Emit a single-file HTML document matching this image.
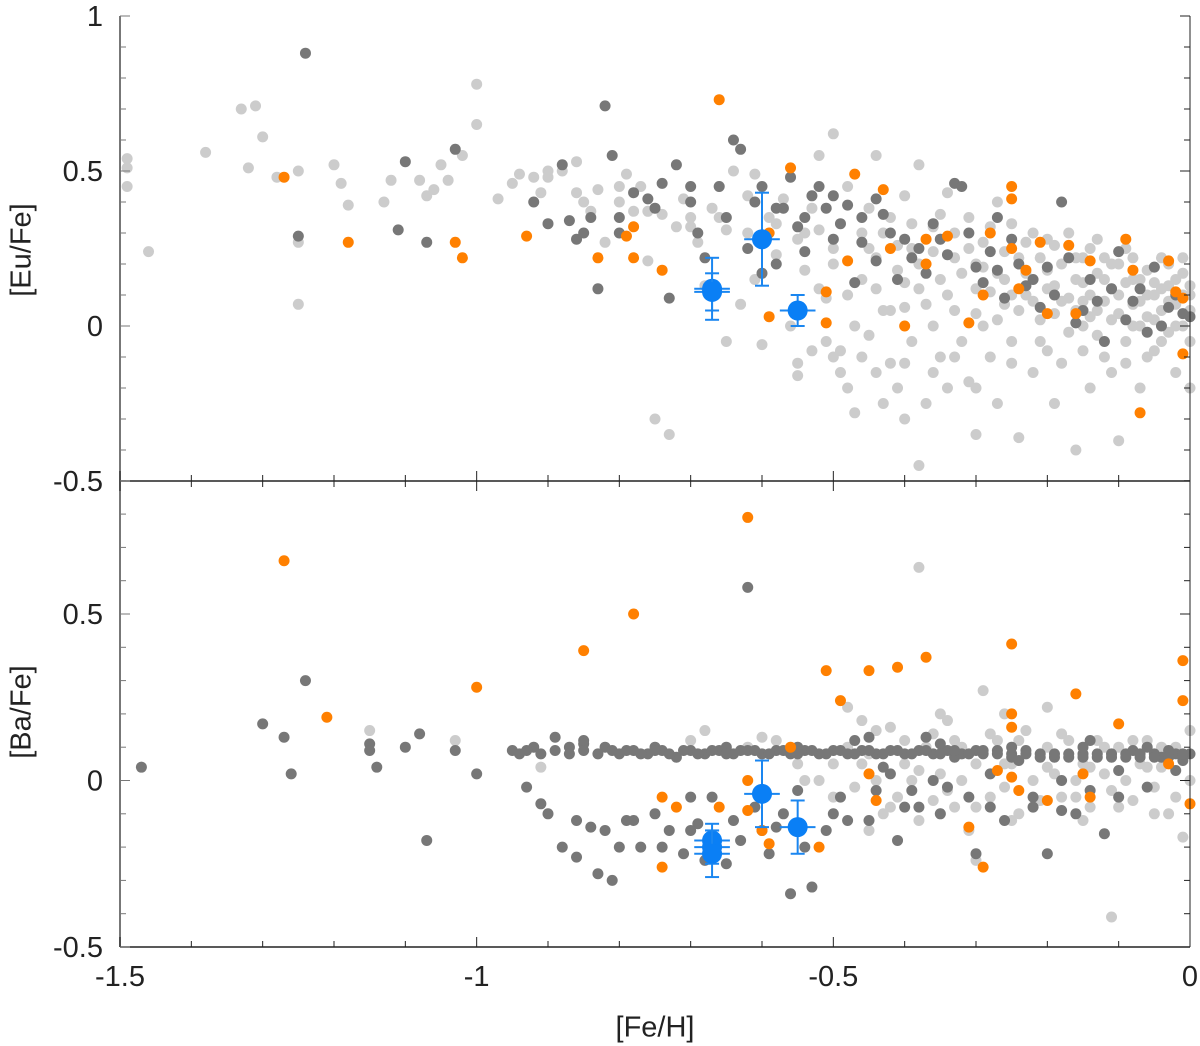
<!DOCTYPE html>
<html><head><meta charset="utf-8"><style>
html,body{margin:0;padding:0;background:#fff;}
svg{display:block;font-family:"Liberation Sans",Arial,sans-serif;}
</style></head><body>
<svg id="chart" width="1200" height="1046" viewBox="0 0 1200 1046" xmlns="http://www.w3.org/2000/svg">
<g id="marks"></g>
<g id="axes"></g>
</svg>
<script>
const xTicks=[-1.5,-1,-0.5,0];
const xTickLabels=["-1.5","-1","-0.5","0"];
const topYTicks=[1,0.5,0,-0.5];
const topYLabels=["1","0.5","0","-0.5"];
const botYTicks=[0.5,0,-0.5];
const botYLabels=["0.5","0","-0.5"];

const euLight=[-1.49,0.54,-1.49,0.51,-1.49,0.45,-1.46,0.24,-1.38,0.56,-1.33,0.70,-1.31,0.71,-1.30,0.61,-1.32,0.51,-1.28,0.48,-1.25,0.50,-1.25,0.27,-1.25,0.07,-1.20,0.52,-1.19,0.46,-1.18,0.39,-1.13,0.4,-1.12,0.47,-1.08,0.47,-1.07,0.42,-1.06,0.44,-1.05,0.52,-1.04,0.47,-1.02,0.55,-1.00,0.65,-1.00,0.78,-0.97,0.41,-0.95,0.46,-0.94,0.49,-0.92,0.48,-0.91,0.43,-0.90,0.48,-0.88,0.50,-0.86,0.53,-0.85,0.40,-0.84,0.37,-0.83,0.44,-0.82,0.27,-0.80,0.45,-0.79,0.49,-0.78,0.37,-0.77,0.45,-0.76,0.21,-0.76,0.37,-0.75,-0.30,-0.73,-0.35,-0.72,0.32,-0.71,0.41,-0.70,0.35,-0.69,0.27,-0.68,0.13,-0.67,0.38,-0.66,0.45,-0.65,0.31,-0.65,-0.05,-0.64,0.50,-0.63,0.07,-0.62,0.42,-0.61,0.49,-0.61,0.15,-0.60,-0.06,-0.59,0.35,-0.58,0.23,-0.57,0.41,-0.56,0.0,-0.55,0.28,-0.55,-0.12,-0.55,-0.16,-0.54,0.18,-0.53,0.38,-0.53,-0.08,-0.52,0.55,-0.52,0.31,-0.51,0.09,-0.51,-0.05,-0.50,0.62,-0.50,0.2,-0.49,-0.08,-0.49,-0.15,-0.48,0.45,-0.48,0.1,-0.47,0.0,-0.47,-0.28,-0.46,0.3,-0.46,0.15,-0.45,-0.03,-0.44,0.55,-0.44,0.22,-0.43,0.05,-0.43,-0.25,-0.42,0.35,-0.42,-0.12,-0.41,0.18,-0.41,-0.2,-0.40,0.42,-0.40,0.06,-0.40,-0.3,-0.39,0.25,-0.39,-0.05,-0.38,0.52,-0.38,0.12,-0.38,-0.45,-0.37,-0.25,-0.36,0.32,-0.36,0.0,-0.35,0.15,-0.35,-0.1,-0.34,0.43,-0.34,-0.2,-0.33,0.22,-0.33,0.05,-0.32,-0.05,-0.31,0.35,-0.31,-0.18,-0.30,0.12,-0.30,-0.35,-0.29,0.27,-0.29,0.0,-0.28,-0.1,-0.27,0.4,-0.27,0.17,-0.27,-0.25,-0.26,0.07,-0.25,0.33,-0.25,-0.05,-0.24,0.22,-0.24,-0.36,-0.23,0.1,-0.22,0.3,-0.22,-0.15,-0.21,0.02,-0.2,0.18,-0.2,-0.08,-0.19,0.26,-0.19,-0.25,-0.18,0.08,-0.17,0.3,-0.17,-0.02,-0.16,0.15,-0.16,-0.4,-0.15,0.22,-0.15,0.0,-0.14,0.1,-0.14,-0.2,-0.13,0.28,-0.13,0.05,-0.12,0.15,-0.12,-0.1,-0.11,0.2,-0.11,0.02,-0.1,0.1,-0.1,-0.37,-0.09,0.25,-0.09,-0.05,-0.08,0.15,-0.08,0.0,-0.07,0.08,-0.07,-0.2,-0.06,0.18,-0.06,0.03,-0.05,0.1,-0.05,-0.08,-0.04,0.22,-0.04,0.05,-0.03,0.13,-0.03,-0.02,-0.02,0.07,-0.02,-0.15,-0.01,0.17,-0.01,0.0,0,0.1,0,-0.2,0,0.05,-0.2,0.12,-0.3,0.2,-0.35,0.28,-0.45,0.38,-0.25,0.1,-0.15,0.08,-0.05,0.14,
-0.45,0.25,-0.44,0.12,-0.43,0.3,-0.42,0.05,-0.41,0.26,-0.4,0.14,-0.39,0.33,-0.38,0.2,-0.37,0.07,-0.36,0.24,-0.35,0.36,-0.34,0.1,-0.33,0.3,-0.32,0.17,-0.31,0.25,-0.3,0.04,-0.29,0.19,-0.28,0.32,-0.28,0.11,-0.27,0.02,-0.26,0.24,-0.26,0.15,-0.25,-0.12,-0.24,0.05,-0.23,0.27,-0.23,0.17,-0.22,0.08,-0.21,0.22,-0.21,-0.05,-0.2,0.28,-0.19,0.13,-0.19,0.04,-0.18,0.2,-0.18,-0.12,-0.17,0.09,-0.16,0.22,-0.16,0.05,-0.15,0.14,-0.15,-0.08,-0.14,0.25,-0.14,0.03,-0.13,0.17,-0.13,-0.03,-0.12,0.08,-0.12,0.22,-0.11,0.12,-0.11,-0.15,-0.1,0.2,-0.1,0.04,-0.09,0.14,-0.09,-0.12,-0.08,0.22,-0.08,0.07,-0.07,0.15,-0.07,0.0,-0.06,0.1,-0.06,-0.1,-0.05,0.19,-0.05,0.02,-0.04,0.12,-0.04,-0.05,-0.03,0.2,-0.03,0.08,-0.02,0.15,-0.02,0.0,-0.01,0.1,-0.01,0.22,0,0.13,0,-0.05,-0.5,0.25,-0.52,0.12,-0.54,0.3,-0.58,0.33,-0.62,0.3,-0.66,0.35,-0.7,0.32,-0.74,0.36,-0.8,0.4,-0.86,0.43,-0.9,0.5,-0.5,-0.1,-0.48,-0.2,-0.46,-0.1,-0.44,-0.15,-0.4,-0.12,-0.36,-0.15,-0.33,-0.1,-0.3,-0.2];
const euDark=[-1.24,0.88,-1.25,0.29,-1.11,0.31,-1.10,0.53,-1.07,0.27,-1.03,0.57,-0.87,0.34,-0.86,0.28,-0.84,0.35,-0.83,0.12,-0.82,0.71,-0.81,0.55,-0.80,0.30,-0.78,0.43,-0.76,0.41,-0.74,0.46,-0.73,0.09,-0.72,0.52,-0.70,0.40,-0.69,0.30,-0.68,0.22,-0.66,0.45,-0.65,0.35,-0.64,0.60,-0.63,0.57,-0.62,0.25,-0.61,0.40,-0.60,0.45,-0.60,0.17,-0.58,0.20,-0.57,0.38,-0.56,0.48,-0.55,0.32,-0.54,0.24,-0.53,0.42,-0.52,0.45,-0.51,0.38,-0.50,0.28,-0.49,0.33,-0.48,0.39,-0.47,0.14,-0.46,0.27,-0.44,0.41,-0.43,0.36,-0.42,0.30,-0.41,0.15,-0.39,0.22,-0.37,0.17,-0.35,0.28,-0.33,0.46,-0.32,0.45,-0.30,0.19,-0.29,0.14,-0.28,0.24,-0.26,0.09,-0.25,0.28,-0.23,0.13,-0.21,0.06,-0.20,0.19,-0.18,0.40,-0.17,0.22,-0.16,0.01,-0.14,0.15,-0.12,-0.05,-0.11,0.12,-0.10,0.24,-0.08,0.08,-0.06,-0.02,-0.05,0.19,-0.03,0.06,-0.01,0.04,0,0.03,-0.36,0.33,-0.27,0.35,-0.44,0.21,-0.9,0.33,-0.88,0.52,-0.92,0.40,
-0.58,0.38,-0.54,0.35,-0.5,0.42,-0.46,0.35,-0.4,0.28,-0.38,0.25,-0.34,0.23,-0.31,0.3,-0.27,0.18,-0.24,0.2,-0.22,0.15,-0.19,0.1,-0.15,0.05,-0.13,0.08,-0.09,0.02,-0.07,0.12,-0.04,0.0,-0.02,0.1,-0.75,0.38,-0.7,0.45,-0.85,0.3,-0.8,0.35];
const euOrange=[-1.27,0.48,-1.18,0.27,-1.03,0.27,-1.02,0.22,-0.93,0.29,-0.83,0.22,-0.79,0.29,-0.78,0.32,-0.78,0.22,-0.74,0.18,-0.66,0.73,-0.59,0.03,-0.59,0.30,-0.56,0.51,-0.51,0.11,-0.51,0.01,-0.47,0.49,-0.48,0.21,-0.43,0.44,-0.42,0.25,-0.40,0.0,-0.37,0.28,-0.37,0.20,-0.34,0.29,-0.31,0.01,-0.28,0.30,-0.25,0.45,-0.25,0.41,-0.25,0.25,-0.24,0.12,-0.23,0.18,-0.21,0.27,-0.17,0.26,-0.2,0.04,-0.16,0.04,-0.14,0.21,-0.09,0.28,-0.08,0.18,-0.07,-0.28,-0.03,0.21,-0.02,0.11,-0.01,0.09,-0.01,-0.09,-0.29,0.1];
const euBlueX=[-0.67,-0.67,-0.6,-0.55];
const euBlueY=[0.12,0.11,0.28,0.05];
const euBlueErr=[0.1,0.06,0.15,0.05];

const baLight=[-1.15,0.15,-1.03,0.12,-0.91,0.04,-0.68,0.15,-0.6,0.13,-0.52,0.0,-0.5,0.05,-0.48,0.22,-0.47,-0.02,-0.46,0.18,-0.44,0.0,-0.43,-0.1,-0.42,0.16,-0.41,-0.05,-0.40,0.05,-0.39,0.0,-0.38,-0.12,-0.37,0.1,-0.36,-0.06,-0.35,0.02,-0.34,0.18,-0.33,-0.08,-0.32,0.0,-0.31,-0.15,-0.30,0.05,-0.29,0.27,-0.28,-0.05,-0.27,0.12,-0.26,-0.02,-0.25,0.05,-0.24,-0.1,-0.23,0.15,-0.22,0.0,-0.21,-0.06,-0.2,0.1,-0.19,0.02,-0.18,-0.05,-0.17,0.12,-0.16,0.0,-0.15,0.05,-0.14,-0.08,-0.13,0.12,-0.12,0.02,-0.11,-0.03,-0.1,0.1,-0.09,0.0,-0.08,-0.06,-0.07,0.05,-0.06,0.12,-0.05,-0.02,-0.04,0.04,-0.03,-0.1,-0.02,0.1,-0.01,-0.17,0,0.15,0,0.0,-0.11,-0.41,-0.3,-0.24,-0.38,0.64,-0.35,0.2,-0.45,0.08,-0.55,0.05,-0.62,0.1,-0.26,0.2,-0.2,0.22,-0.33,0.12,
-0.5,-0.05,-0.48,0.1,-0.46,0.05,-0.44,0.15,-0.42,-0.08,-0.4,0.12,-0.38,0.03,-0.36,0.14,-0.34,-0.03,-0.32,0.1,-0.3,-0.08,-0.28,0.14,-0.26,0.05,-0.24,0.12,-0.22,-0.08,-0.2,0.04,-0.18,0.14,-0.16,-0.05,-0.14,0.04,-0.12,0.1,-0.1,-0.08,-0.08,0.12,-0.06,0.04,-0.04,0.1,-0.02,-0.05,-0.7,0.12,-0.58,0.12,-0.54,0.0,-0.45,-0.15,-0.35,-0.1,-0.25,-0.12,-0.15,-0.12,-0.05,-0.1];
const baDark=[-1.47,0.04,-1.30,0.17,-1.27,0.13,-1.26,0.02,-1.24,0.30,-1.15,0.11,-1.15,0.09,-1.14,0.04,-1.10,0.10,-1.08,0.14,-1.07,-0.18,-1.03,0.09,-1.00,0.02,-0.95,0.09,-0.94,0.08,-0.93,-0.02,-0.92,0.10,-0.91,-0.07,-0.89,0.13,-0.88,-0.20,-0.87,0.10,-0.86,-0.23,-0.85,0.12,-0.84,-0.14,-0.83,-0.28,-0.82,0.10,-0.81,-0.30,-0.8,0.08,-0.79,-0.12,-0.78,0.09,-0.77,-0.20,-0.76,0.08,-0.75,-0.10,-0.74,0.09,-0.73,-0.15,-0.72,0.07,-0.71,-0.22,-0.70,0.09,-0.69,-0.13,-0.68,0.08,-0.67,-0.05,-0.66,0.09,-0.65,-0.25,-0.64,0.08,-0.63,-0.18,-0.62,0.09,-0.62,0.58,-0.61,-0.08,-0.60,0.08,-0.59,-0.22,-0.58,0.09,-0.57,-0.10,-0.56,0.08,-0.56,-0.34,-0.55,-0.03,-0.54,0.09,-0.53,-0.32,-0.52,0.08,-0.51,-0.15,-0.5,0.09,-0.49,-0.05,-0.48,0.08,-0.47,0.12,-0.46,0.09,-0.45,-0.12,-0.44,0.08,-0.43,0.04,-0.42,0.09,-0.41,-0.18,-0.40,0.08,-0.39,-0.03,-0.38,0.09,-0.37,0.13,-0.36,0.08,-0.35,-0.1,-0.34,0.09,-0.33,0.07,-0.32,0.08,-0.31,-0.05,-0.30,0.09,-0.30,-0.22,-0.29,0.08,-0.28,0.02,-0.27,0.09,-0.26,-0.12,-0.25,0.08,-0.24,0.06,-0.23,0.09,-0.22,-0.08,-0.21,0.08,-0.2,-0.22,-0.19,0.07,-0.18,0.0,-0.17,0.08,-0.16,-0.1,-0.15,0.08,-0.14,0.12,-0.13,0.07,-0.12,-0.16,-0.11,0.08,-0.10,0.03,-0.09,0.08,-0.08,0.09,-0.07,0.07,-0.06,0.1,-0.05,0.08,-0.04,0.07,-0.03,0.09,-0.02,0.08,-0.01,0.06,0,0.08,-0.45,0.13,-0.35,0.11,-0.25,0.1,-0.15,0.1,-0.55,0.1,-0.65,0.1,-0.75,0.1,-0.85,0.11,-0.6,-0.15,-0.7,-0.05,-0.8,-0.2,-0.5,-0.1,-0.4,-0.08,
-0.93,0.09,-0.91,0.08,-0.89,0.09,-0.87,0.08,-0.85,0.09,-0.83,0.08,-0.81,0.09,-0.79,0.09,-0.77,0.08,-0.75,0.09,-0.73,0.08,-0.71,0.09,-0.69,0.08,-0.67,0.09,-0.65,0.08,-0.63,0.09,-0.61,0.09,-0.59,0.08,-0.57,0.09,-0.55,0.08,-0.53,0.09,-0.51,0.08,-0.49,0.09,-0.47,0.08,-0.45,0.09,-0.43,0.08,-0.41,0.09,-0.39,0.08,-0.37,0.09,-0.35,0.08,-0.33,0.09,-0.31,0.08,-0.29,0.09,-0.27,0.08,-0.25,0.07,-0.23,0.08,-0.21,0.07,-0.19,0.08,-0.17,0.07,-0.15,0.07,-0.13,0.08,-0.11,0.07,-0.09,0.07,-0.07,0.08,-0.05,0.07,-0.03,0.07,-0.01,0.08,
-0.9,-0.1,-0.86,-0.12,-0.82,-0.15,-0.78,-0.12,-0.74,-0.2,-0.7,-0.15,-0.68,-0.24,-0.64,-0.12,-0.58,-0.14,-0.54,-0.2,-0.48,-0.12,-0.44,-0.03,-0.38,-0.08,-0.34,-0.02,-0.28,-0.08,-0.22,-0.05,-0.18,-0.09,-0.14,-0.03,-0.1,-0.05,-0.06,-0.02,-0.02,0.03,-0.36,0.0,-0.42,0.02];
const baOrange=[-1.27,0.66,-1.21,0.19,-1.0,0.28,-0.85,0.39,-0.78,0.50,-0.62,0.79,-0.51,0.33,-0.49,0.24,-0.45,0.33,-0.41,0.34,-0.37,0.37,-0.25,0.41,-0.25,0.2,-0.25,0.16,-0.16,0.26,-0.1,0.17,-0.01,0.36,-0.01,0.24,0,-0.07,-0.03,0.05,-0.74,-0.05,-0.72,-0.08,-0.74,-0.26,-0.66,-0.08,-0.62,0,-0.62,-0.09,-0.6,-0.15,-0.59,-0.19,-0.56,0.1,-0.52,-0.2,-0.45,0.02,-0.44,-0.06,-0.31,-0.14,-0.29,-0.26,-0.27,0.03,-0.25,0.01,-0.24,-0.03,-0.2,-0.06,-0.15,0.02,-0.14,-0.05];
const baBlueX=[-0.67,-0.67,-0.67,-0.6,-0.55];
const baBlueY=[-0.18,-0.2,-0.22,-0.04,-0.14];
const baBlueErr=[0.05,0.05,0.07,0.1,0.08];

const NS="http://www.w3.org/2000/svg";
const L=120,R=1190;
const xs=v=>R+(v)*(R-L)/1.5;
const yTop=v=>326-v*310;
const yBot=v=>780.5-v*333;
function mk(tag,attrs,parent){const e=document.createElementNS(NS,tag);for(const k in attrs)e.setAttribute(k,attrs[k]);parent.appendChild(e);return e;}
const marks=document.getElementById('marks');
const axes=document.getElementById('axes');

function scatter(arr,ys,color,name){
  for(let i=0;i<arr.length;i+=2){
    const c=mk('circle',{cx:xs(arr[i]),cy:ys(arr[i+1]),r:5.5,fill:color},marks);
    
    
  }
}
function blue(X,Y,E,ys,name){
  for(let i=0;i<X.length;i++){
    const g=mk('g',{stroke:'#1a86f0','stroke-width':2},marks);
    
    
    const cx=xs(X[i]),cy=ys(Y[i]),y1=ys(Y[i]+E[i]),y2=ys(Y[i]-E[i]);
    mk('line',{x1:cx,x2:cx,y1:y1,y2:y2},g);
    mk('line',{x1:cx-7,x2:cx+7,y1:y1,y2:y1},g);
    mk('line',{x1:cx-7,x2:cx+7,y1:y2,y2:y2},g);
    mk('line',{x1:xs(X[i]-0.025),x2:xs(X[i]+0.025),y1:cy,y2:cy},g);
    mk('circle',{cx:cx,cy:cy,r:10,fill:'#0a7ff5',stroke:'none'},g);
  }
}
scatter(euLight,yTop,'#cccccc','eu-light-gray-point');
scatter(euDark,yTop,'#777777','eu-dark-gray-point');
scatter(euOrange,yTop,'#ff8000','eu-orange-point');
blue(euBlueX,euBlueY,euBlueErr,yTop,'eu-blue-point');
scatter(baLight,yBot,'#cccccc','ba-light-gray-point');
scatter(baDark,yBot,'#777777','ba-dark-gray-point');
scatter(baOrange,yBot,'#ff8000','ba-orange-point');
blue(baBlueX,baBlueY,baBlueErr,yBot,'ba-blue-point');

mk('line',{x1:L,x2:L,y1:16,y2:947,stroke:'#777','stroke-width':2},axes);
mk('line',{x1:R,x2:R,y1:16,y2:947,stroke:'#222','stroke-width':1},axes);
mk('line',{x1:L,x2:R,y1:947,y2:947,stroke:'#222','stroke-width':1.5},axes);
mk('line',{x1:L,x2:R,y1:481,y2:481,stroke:'#222','stroke-width':1.5},axes);
for(let k=0;k<=15;k++){
  const v=-1.5+k*0.1,x=xs(v),major=(k%5===0);
  const len=major?10:6;
  mk('line',{x1:x,x2:x,y1:947,y2:947-len,stroke:'#222'},axes);
  mk('line',{x1:x,x2:x,y1:481-len,y2:481+len,stroke:'#222'},axes);
}
xTicks.forEach((v,i)=>{
  const t=mk('text',{x:xs(v),y:986,'font-size':29,'text-anchor':'middle',fill:'#222'},axes);
  t.textContent=xTickLabels[i];
  
  
});
for(let k=0;k<=15;k++){const v=-0.5+k*0.1,y=yTop(v),major=(k%5===0);const len=major?10:6;
  mk('line',{x1:L,x2:L+len,y1:y,y2:y,stroke:'#777'},axes);mk('line',{x1:R,x2:R-len,y1:y,y2:y,stroke:'#222'},axes);}
for(let k=0;k<=14;k++){const v=-0.5+k*0.1,y=yBot(v),major=(k%5===0);const len=major?10:6;
  mk('line',{x1:L,x2:L+len,y1:y,y2:y,stroke:'#777'},axes);mk('line',{x1:R,x2:R-len,y1:y,y2:y,stroke:'#222'},axes);}
topYTicks.forEach((v,i)=>{
  const t=mk('text',{x:103,y:yTop(v)+10,'font-size':29,'text-anchor':'end',fill:'#222'},axes);
  t.textContent=topYLabels[i];
  
  
});
botYTicks.forEach((v,i)=>{
  const t=mk('text',{x:103,y:yBot(v)+10,'font-size':29,'text-anchor':'end',fill:'#222'},axes);
  t.textContent=botYLabels[i];
  
  
});
</script>
<div style="position:absolute;left:0;top:0;width:1200px;height:1046px;pointer-events:none;font-family:'Liberation Sans',Arial,sans-serif;color:#222;">
<div style="position:absolute;left:22px;top:250px;font-size:29px;transform:translate(-50%,-50%) rotate(-90deg);white-space:nowrap;">[Eu/Fe]</div>
<div style="position:absolute;left:22px;top:712px;font-size:29px;transform:translate(-50%,-50%) rotate(-90deg);white-space:nowrap;">[Ba/Fe]</div>
<div style="position:absolute;left:655px;top:1028px;font-size:29px;transform:translate(-50%,-50%);white-space:nowrap;">[Fe/H]</div>
</div>
</body></html>
